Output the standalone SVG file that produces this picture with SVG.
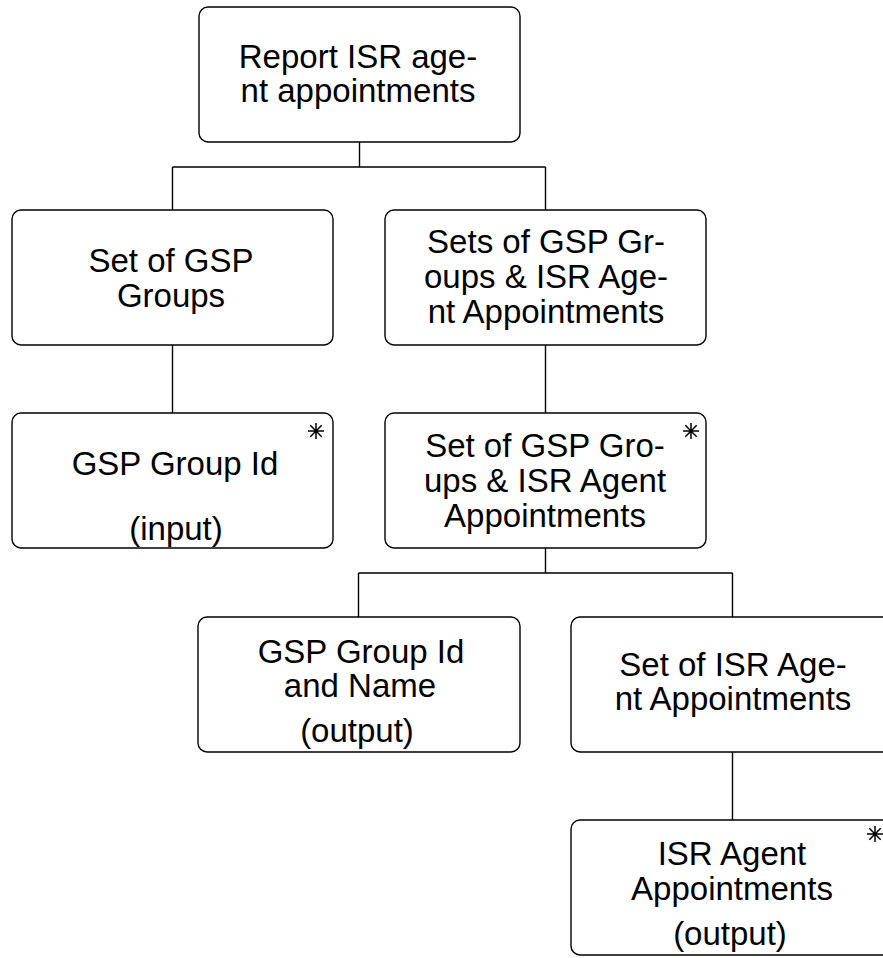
<svg xmlns="http://www.w3.org/2000/svg" width="883" height="958" viewBox="0 0 883 958">
<defs>
<style>
.box{fill:#fff;stroke:#000;stroke-width:1.4}
.conn{fill:none;stroke:#000;stroke-width:1.4}
.t{font-family:"Liberation Sans",Arial,sans-serif;font-size:33px;fill:#000;text-anchor:middle}
.ast{fill:none;stroke:#000;stroke-width:1.5}
</style>
<path id="star" d="M0,-8V8M-8,0H8M-5.7,-5.7L5.7,5.7M-5.7,5.7L5.7,-5.7"/>
</defs>
<rect width="883" height="958" fill="#fff"/>
<g id="connectors" class="conn">
<path d="M359.5,142V167M172.5,167H545.5M172.5,167V210M545.5,167V210"/>
<path d="M172.5,345V413"/>
<path d="M545.5,345V413"/>
<path d="M545.5,548V573M358.5,573H732.5M358.5,573V617M732.5,573V617"/>
<path d="M732.5,752V820"/>
</g>
<g id="n1">
<rect class="box" x="199" y="7" width="321" height="135" rx="9"/>
<text class="t" x="358" y="68">Report ISR age-</text>
<text class="t" x="358" y="102">nt appointments</text>
</g>
<g id="n2">
<rect class="box" x="12" y="210" width="321" height="135" rx="9"/>
<text class="t" x="171" y="272">Set of GSP</text>
<text class="t" x="171" y="307">Groups</text>
</g>
<g id="n3">
<rect class="box" x="385" y="210" width="321" height="135" rx="9"/>
<text class="t" x="546" y="253">Sets of GSP Gr-</text>
<text class="t" x="546" y="288">oups &amp; ISR Age-</text>
<text class="t" x="546" y="323">nt Appointments</text>
</g>
<g id="n4">
<rect class="box" x="12" y="413" width="321" height="135" rx="9"/>
<use href="#star" class="ast" x="316" y="431"/>
<text class="t" x="175" y="475">GSP Group Id</text>
<text class="t" x="176" y="540">(input)</text>
</g>
<g id="n5">
<rect class="box" x="385" y="413" width="321" height="135" rx="9"/>
<use href="#star" class="ast" x="691" y="431"/>
<text class="t" x="545" y="457">Set of GSP Gro-</text>
<text class="t" x="545" y="492">ups &amp; ISR Agent</text>
<text class="t" x="545" y="527">Appointments</text>
</g>
<g id="n6">
<rect class="box" x="198" y="617" width="322" height="135" rx="9"/>
<text class="t" x="361" y="663">GSP Group Id</text>
<text class="t" x="360" y="697">and Name</text>
<text class="t" x="357" y="742">(output)</text>
</g>
<g id="n7">
<rect class="box" x="571" y="617" width="321" height="135" rx="9"/>
<text class="t" x="733" y="676">Set of ISR Age-</text>
<text class="t" x="733" y="710">nt Appointments</text>
</g>
<g id="n8">
<rect class="box" x="571" y="820" width="321" height="135" rx="9"/>
<use href="#star" class="ast" x="875" y="834"/>
<text class="t" x="732" y="865">ISR Agent</text>
<text class="t" x="732" y="900">Appointments</text>
<text class="t" x="730" y="945">(output)</text>
</g>
</svg>
